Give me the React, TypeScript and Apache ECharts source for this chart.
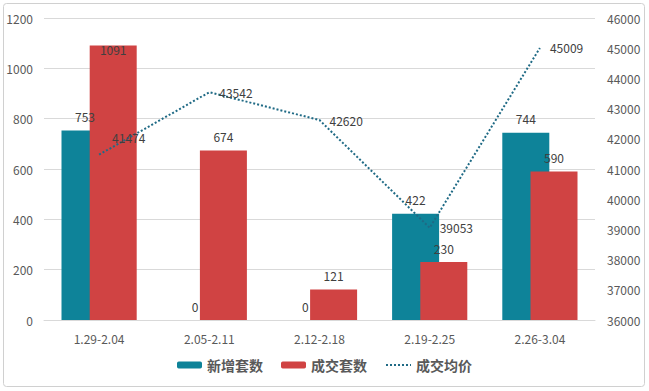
import React, { useEffect, useRef } from "react";
import * as echarts from "echarts";

const categories = ["1.29-2.04", "2.05-2.11", "2.12-2.18", "2.19-2.25", "2.26-3.04"];
const newListings = [753, 0, 0, 422, 744];
const deals = [1091, 674, 121, 230, 590];
const avgPrice = [41474, 43542, 42620, 39053, 45009];
const seriesNames = ["新增套数", "成交套数", "成交均价"];

const FONT = "'Noto Sans CJK SC', 'Noto Sans', sans-serif";
const TEAL = "#0E8399";
const RED = "#D04343";
const LINE = "#1F6A85";

export default function App() {
  const ref = useRef<HTMLDivElement>(null);
  useEffect(() => {
    if (!ref.current) return;
    const chart = echarts.init(ref.current, null, { renderer: "svg" });
    chart.setOption({
      animation: false,
      backgroundColor: "#ffffff",
      textStyle: { fontFamily: FONT },
      grid: { left: 44, right: 54, top: 18, bottom: 71, containLabel: false },
      graphic: [
        {
          type: "rect",
          shape: { x: 3.5, y: 3.5, width: 641, height: 383, r: 3 },
          style: { fill: "none", stroke: "#d0d0d0", lineWidth: 1 },
          z: -1,
        },
      ],
      legend: {
        bottom: 14,
        left: "center",
        itemWidth: 25,
        itemHeight: 7,
        itemGap: 18,
        textStyle: { fontFamily: FONT, fontSize: 14, fontWeight: "bold", color: "#595959" },
        data: [
          seriesNames[0],
          seriesNames[1],
          { name: seriesNames[2], itemStyle: { opacity: 0 } },
        ],
      },
      xAxis: {
        type: "category",
        data: categories,
        axisLine: { lineStyle: { color: "#d9d9d9" } },
        axisTick: { show: false },
        axisLabel: { color: "#595959", fontSize: 12, margin: 12, fontFamily: FONT },
      },
      yAxis: [
        {
          type: "value",
          min: 0,
          max: 1200,
          interval: 200,
          axisLine: { show: false },
          axisTick: { show: false },
          axisLabel: { color: "#595959", fontSize: 12, margin: 11, fontFamily: FONT, formatter: (v: number) => String(v) },
          splitLine: { lineStyle: { color: "#d9d9d9" } },
        },
        {
          type: "value",
          min: 36000,
          max: 46000,
          interval: 1000,
          axisLine: { show: false },
          axisTick: { show: false },
          axisLabel: { color: "#595959", fontSize: 12, margin: 12, fontFamily: FONT, formatter: (v: number) => String(v) },
          splitLine: { show: false },
        },
      ],
      series: [
        {
          name: seriesNames[0],
          type: "bar",
          data: newListings,
          barWidth: 47,
          barGap: "-40%",
          itemStyle: { color: TEAL },
          label: { show: true, position: "top", color: "#404040", fontSize: 12, distance: 8, fontFamily: FONT },
        },
        {
          name: seriesNames[1],
          type: "bar",
          data: deals.map((v, i) =>
            i === 0
              ? { value: v, label: { position: "insideTop", distance: -2 } }
              : v
          ),
          barWidth: 47,
          itemStyle: { color: RED },
          label: { show: true, position: "top", color: "#404040", fontSize: 12, distance: 8, fontFamily: FONT },
        },
        {
          name: seriesNames[2],
          type: "line",
          yAxisIndex: 1,
          data: avgPrice.map((v, i) =>
            i === 0 ? { value: v, label: { position: [14, -22] } } : v
          ),
          symbol: "circle",
          symbolSize: 2,
          showSymbol: true,
          showAllSymbol: true,
          lineStyle: { color: LINE, width: 2, type: "dotted" },
          itemStyle: { color: "rgba(0,0,0,0)", borderWidth: 0 },
          label: { show: true, position: "right", color: "#404040", fontSize: 12, distance: 9, fontFamily: FONT },
          labelLayout: { hideOverlap: false },
          z: 5,
        },
      ],
    });
    return () => chart.dispose();
  }, []);
  return (
    <div
      ref={ref}
      style={{ position: "fixed", left: 0, top: 0, width: 649, height: 391 }}
    />
  );
}
